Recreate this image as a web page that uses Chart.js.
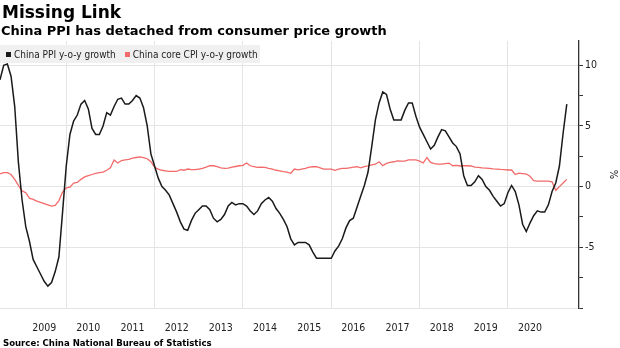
<!DOCTYPE html>
<html><head><meta charset="utf-8">
<script src="https://cdn.jsdelivr.net/npm/chart.js@4.4.0/dist/chart.umd.min.js"></script>
<style>
html,body{margin:0;padding:0;background:#fff;}
#wrap{position:relative;width:620px;height:348px;overflow:hidden;background:#fff;}
#c{position:absolute;left:0;top:0;}
.t{position:absolute;white-space:nowrap;color:#000;font-family:"DejaVu Sans",sans-serif;font-weight:bold;line-height:1;}
#title{left:2px;top:4px;font-size:17px;}
#subtitle{left:1px;top:24px;font-size:13px;}
#legend{position:absolute;left:0;top:45px;width:260px;height:18px;background:#f0f0f0;display:flex;align-items:center;font-family:"DejaVu Sans Condensed","DejaVu Sans",sans-serif;font-size:10px;color:#222;}
.li{display:flex;align-items:center;white-space:nowrap;}
.sw{width:5px;height:5px;margin-right:3px;}
#source{left:3px;top:338px;font-size:9.5px;font-family:"DejaVu Sans Condensed","DejaVu Sans",sans-serif;}
</style></head>
<body>
<div id="wrap">
  <canvas id="c" width="620" height="348"></canvas>
  <div id="title" class="t">Missing Link</div>
  <div id="subtitle" class="t">China PPI has detached from consumer price growth</div>
  <div id="legend"></div>
  <div id="source" class="t">Source: China National Bureau of Statistics</div>
</div>
<script>
// ---- data (monthly, first observation June 2008, last April 2021) ----
const startYear = 2008;
const startMonth = 6;
const seriesNames = ['China PPI y-o-y growth', 'China core CPI y-o-y growth'];
const ppi = [
  8.8, 10.0, 10.1, 9.1, 6.6, 2.0, -1.1,
  -3.3, -4.5, -6.0, -6.6, -7.2, -7.8, -8.2, -7.9, -7.0, -5.8, -2.1, 1.7,
  4.3, 5.4, 5.9, 6.8, 7.1, 6.4, 4.8, 4.3, 4.3, 5.0, 6.1, 5.9,
  6.6, 7.2, 7.3, 6.8, 6.8, 7.1, 7.5, 7.3, 6.5, 5.0, 2.7, 1.7,
  0.7, 0.0, -0.3, -0.7, -1.4, -2.1, -2.9, -3.5, -3.6, -2.8, -2.2, -1.9,
  -1.6, -1.6, -1.9, -2.6, -2.9, -2.7, -2.3, -1.6, -1.3, -1.5, -1.4, -1.4,
  -1.6, -2.0, -2.3, -2.0, -1.4, -1.1, -0.9, -1.2, -1.8, -2.2, -2.7, -3.3,
  -4.3, -4.8, -4.6, -4.6, -4.6, -4.8, -5.4, -5.9, -5.9, -5.9, -5.9, -5.9,
  -5.3, -4.9, -4.3, -3.4, -2.8, -2.6, -1.7, -0.8, 0.1, 1.2, 3.3, 5.5,
  6.9, 7.8, 7.6, 6.4, 5.5, 5.5, 5.5, 6.3, 6.9, 6.9, 5.8, 4.9,
  4.3, 3.7, 3.1, 3.4, 4.1, 4.7, 4.6, 4.1, 3.6, 3.3, 2.7, 0.9,
  0.1, 0.1, 0.4, 0.9, 0.6, 0.0, -0.3, -0.8, -1.2, -1.6, -1.4, -0.5,
  0.1, -0.4, -1.5, -3.1, -3.7, -3.0, -2.4, -2.0, -2.1, -2.1, -1.5, -0.4,
  0.3, 1.7, 4.4, 6.8
];
const coreCpi = [
  1.05, 1.15, 1.15, 1.0, 0.6, 0.1, -0.35,
  -0.5, -0.95, -1.05, -1.2, -1.3, -1.4, -1.5, -1.6, -1.55, -1.15, -0.45, -0.1,
  -0.05, 0.3, 0.35, 0.6, 0.8, 0.9, 1.0, 1.1, 1.15, 1.2, 1.35, 1.55,
  2.2, 1.95, 2.15, 2.2, 2.25, 2.35, 2.4, 2.45, 2.4, 2.3, 2.05, 1.6,
  1.45, 1.35, 1.3, 1.25, 1.25, 1.25, 1.4, 1.35, 1.45, 1.4, 1.4, 1.45,
  1.5, 1.6, 1.72, 1.72, 1.64, 1.55, 1.5, 1.53, 1.6, 1.66, 1.72, 1.75,
  1.95, 1.72, 1.65, 1.58, 1.6, 1.58, 1.5, 1.45, 1.35, 1.3, 1.23, 1.2,
  1.1, 1.45, 1.39, 1.45, 1.5, 1.6, 1.64, 1.64, 1.55, 1.45, 1.45, 1.45,
  1.35, 1.45, 1.5, 1.5, 1.55, 1.6, 1.64, 1.55, 1.65, 1.72, 1.8, 1.85,
  2.05, 1.72, 1.91, 2.0, 2.05, 2.13, 2.1, 2.1, 2.2, 2.2, 2.2, 2.1,
  1.95, 2.4, 2.0, 1.9, 1.85, 1.85, 1.9, 1.94, 1.72, 1.75, 1.7, 1.72,
  1.72, 1.7, 1.6, 1.58, 1.55, 1.53, 1.5, 1.47, 1.45, 1.42, 1.4, 1.37,
  1.37, 1.0, 1.12, 1.08, 1.04, 0.85, 0.5, 0.45, 0.45, 0.45, 0.45, 0.4,
  -0.3, 0.0, 0.3, 0.6
];
const yearLabels = ['2009','2010','2011','2012','2013','2014','2015','2016','2017','2018','2019','2020'];
const gridYears = [2010, 2012, 2014, 2016, 2018, 2020];
const yTicks = [-10, -7.5, -5, -2.5, 0, 2.5, 5, 7.5, 10];
const yTickLabels = [-5, 0, 5, 10];
const yGridLines = [-10, -5, 0, 5, 10];

// ---- build ----
const colors = ['#1a1a1a', '#f26a6a'];
const xOf = i => startYear + (startMonth + i) / 12; // month-end position in years
const toPts = arr => arr.map((v, i) => ({x: xOf(i), y: v}));

const leg = document.getElementById('legend');
seriesNames.forEach((n, k) => {
  const d = document.createElement('div');
  d.className = 'li';
  d.style.marginLeft = k === 0 ? '6px' : '9px';
  d.innerHTML = '<span class="sw" style="background:' + colors[k] + '"></span><span></span>';
  d.lastChild.textContent = n;
  leg.appendChild(d);
});

const FAM = '"DejaVu Sans Condensed", "DejaVu Sans", sans-serif';
Chart.defaults.font.family = FAM;
const near = (a, b) => Math.abs(a - b) < 1e-6;

new Chart(document.getElementById('c'), {
  type: 'line',
  data: {
    datasets: [
      {label: seriesNames[0], data: toPts(ppi), borderColor: colors[0], borderWidth: 1.5, pointRadius: 0, tension: 0},
      {label: seriesNames[1], data: toPts(coreCpi), borderColor: colors[1], borderWidth: 1.3, pointRadius: 0, tension: 0}
    ]
  },
  options: {
    responsive: false,
    animation: false,
    events: [],
    layout: {padding: {top: 41, right: 0, bottom: 13, left: 0}},
    plugins: {legend: {display: false}, tooltip: {enabled: false}},
    scales: {
      x: {
        type: 'linear',
        position: 'bottom',
        min: 2008.5,
        max: 2021.61,
        afterBuildTicks: s => {
          const v = gridYears.concat(yearLabels.map(y => Number(y) + 0.5));
          v.sort((a, b) => a - b);
          s.ticks = v.map(value => ({value}));
        },
        afterFit: s => { s.height = 27; },
        border: {display: false},
        grid: {
          color: c => (c.tick && gridYears.some(g => near(g, c.tick.value))) ? '#e4e4e4' : 'rgba(0,0,0,0)',
          drawTicks: false,
          lineWidth: 1
        },
        ticks: {
          autoSkip: false,
          maxRotation: 0,
          padding: 14,
          color: '#222',
          font: {size: 10.5},
          callback: v => {
            const lab = yearLabels.find(y => near(Number(y) + 0.5, v));
            return lab || '';
          }
        }
      },
      y: {
        type: 'linear',
        position: 'right',
        min: -10,
        max: 12,
        afterBuildTicks: s => { s.ticks = yTicks.map(value => ({value})); },
        afterFit: s => { s.width = 41; },
        border: {display: true, color: '#333', width: 1.3},
        grid: {
          color: c => (c.tick && yGridLines.some(g => near(g, c.tick.value))) ? '#e4e4e4' : 'rgba(0,0,0,0)',
          tickColor: '#333',
          tickLength: 4,
          drawTicks: true
        },
        ticks: {
          padding: 2,
          color: '#222',
          font: {size: 10.5},
          callback: v => yTickLabels.some(t => near(t, v)) ? String(v) : ''
        },
        title: {display: true, text: '%', color: '#222', font: {size: 11}, padding: {top: 1, bottom: 0}}
      }
    }
  }
});
</script>
</body></html>
